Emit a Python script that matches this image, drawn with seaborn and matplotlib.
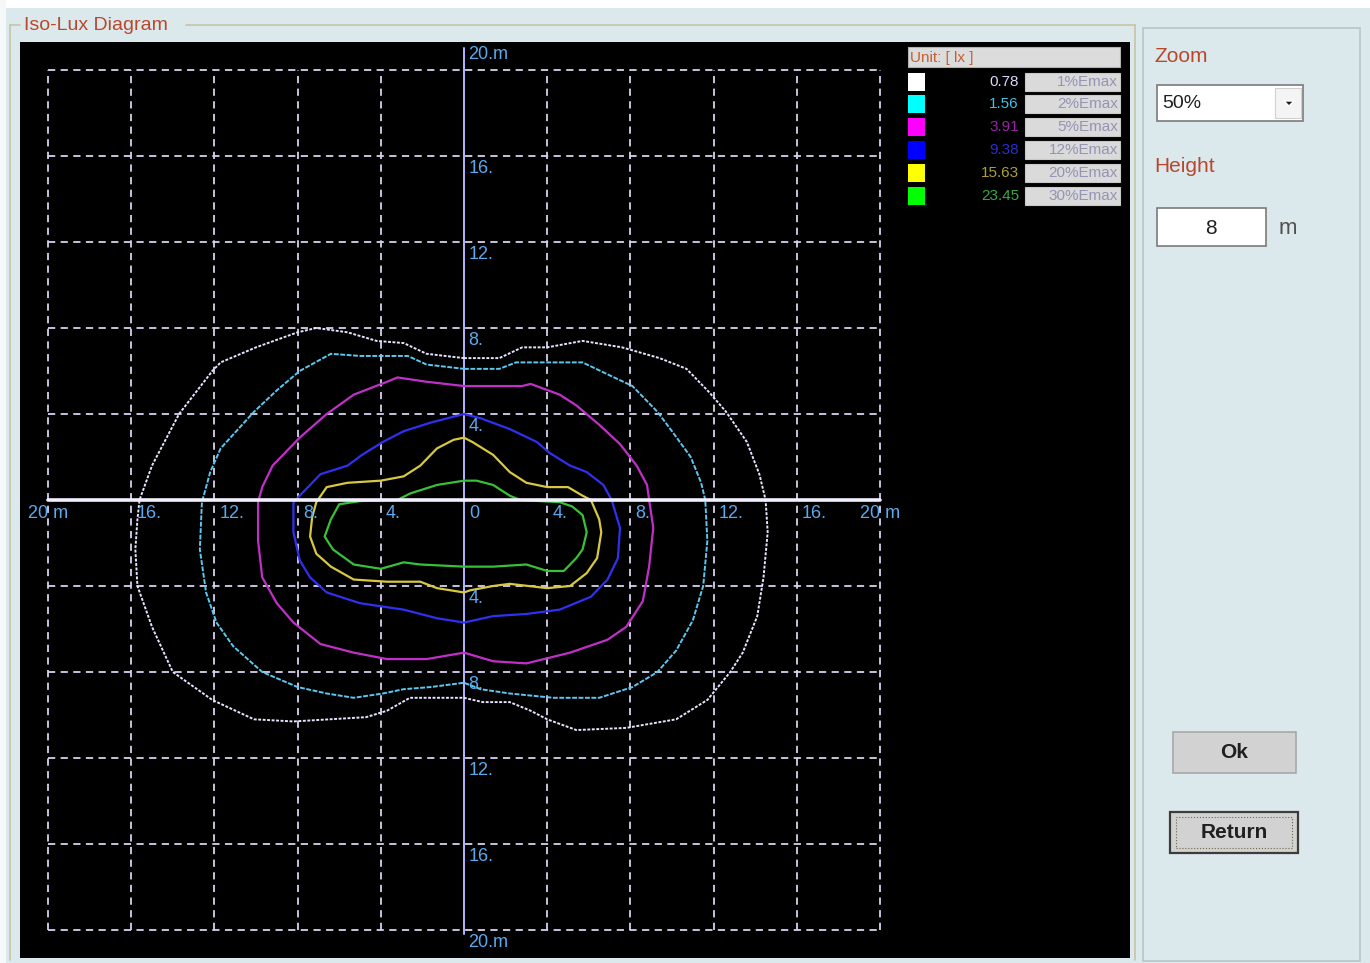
import matplotlib
matplotlib.use("Agg")
import matplotlib.pyplot as plt
from matplotlib.patches import Rectangle, Polygon
import seaborn as sns
import pandas as pd

sns.set_theme(style="white")
plt.rcParams['font.family'] = ['Liberation Sans', 'DejaVu Sans']

# ---------------- data (metres) ----------------
levels_lux = ["0.78", "1.56", "3.91", "9.38", "15.63", "23.45"]
levels_pct = ["1%Emax", "2%Emax", "5%Emax", "12%Emax", "20%Emax", "30%Emax"]
swatch_colors = ["#ffffff", "#00ffff", "#ff00ff", "#0000ff", "#ffff00", "#00ff00"]
value_colors = ["#d8d8ff", "#3fc0e8", "#9a20a8", "#2c2cd0", "#b0a038", "#38a848"]
line_colors = ["#e4e4ff", "#5cc8f0", "#c030c8", "#3030f0", "#d8c840", "#38c038"]

white_x = [0, 1.7, 2.8, 4.0, 5.7, 7.6, 9.4, 10.7, 11.8, 12.6, 13.6, 14.2, 14.5, 14.6, 14.4, 14.1, 13.4, 12.8, 11.7, 10.2, 7.8, 5.4, 4.0, 3.2, 2.2, 0.9, 0, -2.6, -3.7, -4.7, -8.2, -10.1, -12.1, -14.0, -15.0, -15.7, -15.8, -15.7, -15.6, -15.0, -13.7, -12.1, -11.7, -10.0, -8.0, -7.1, -5.6, -4.2, -2.9, -1.8, 0]
white_y = [6.6, 6.6, 7.1, 7.1, 7.4, 7.1, 6.6, 6.1, 5.0, 4.1, 2.7, 1.2, 0, -1.5, -3.6, -5.4, -7.1, -8.0, -9.3, -10.2, -10.6, -10.7, -10.2, -9.8, -9.4, -9.4, -9.2, -9.2, -9.8, -10.1, -10.3, -10.2, -9.3, -8.0, -5.9, -4.0, -2.3, -0.9, 0, 1.6, 4.0, 6.0, 6.4, 7.1, 7.8, 8.0, 7.8, 7.4, 7.3, 6.8, 6.6]

cyan_x = [0, 1.7, 2.5, 5.7, 7.0, 8.1, 9.3, 10.0, 10.9, 11.4, 11.6, 11.7, 11.5, 11.0, 10.2, 9.3, 8.1, 6.5, 4.3, 2.2, 0.8, 0, -1.6, -2.9, -3.9, -5.3, -6.6, -8.0, -9.7, -11.1, -11.9, -12.4, -12.7, -12.6, -12.2, -11.7, -10.1, -9.0, -7.9, -6.4, -5.0, -2.7, -1.8, 0]
cyan_y = [6.1, 6.1, 6.4, 6.4, 5.8, 5.3, 4.1, 3.2, 2.0, 0.8, 0, -1.9, -4.0, -5.6, -7.0, -8.0, -8.7, -9.2, -9.2, -9.0, -8.8, -8.5, -8.7, -8.8, -9.0, -9.2, -9.0, -8.7, -8.0, -6.8, -5.7, -4.3, -2.3, -0.1, 1.3, 2.4, 4.1, 5.1, 6.0, 6.8, 6.7, 6.7, 6.3, 6.1]

magenta_x = [0, 2.8, 3.2, 4.6, 5.4, 6.5, 7.5, 8.3, 8.8, 8.9, 9.1, 8.9, 8.6, 7.8, 6.9, 5.1, 3.0, 1.4, 0, -1.8, -3.7, -5.3, -6.9, -8.2, -9.0, -9.7, -9.9, -9.9, -9.7, -9.2, -7.9, -6.6, -5.3, -3.7, -3.2, -1.8, 0]
magenta_y = [5.3, 5.3, 5.4, 4.9, 4.4, 3.5, 2.6, 1.6, 0.7, 0, -1.3, -3.1, -4.7, -5.9, -6.5, -7.1, -7.6, -7.5, -7.1, -7.4, -7.4, -7.1, -6.7, -5.7, -4.8, -3.6, -1.9, -0.1, 0.6, 1.6, 2.9, 4.0, 4.9, 5.5, 5.7, 5.5, 5.3]

blue_x = [0, 0.8, 2.2, 3.5, 4.1, 5.1, 5.9, 6.7, 7.1, 7.5, 7.4, 6.9, 6.1, 4.6, 3.0, 1.4, 0, -1.3, -2.9, -5.0, -6.6, -7.4, -7.9, -8.2, -8.2, -7.5, -6.9, -5.6, -4.9, -3.9, -2.9, -1.6, 0]
blue_y = [4.0, 3.8, 3.3, 2.7, 2.2, 1.6, 1.3, 0.7, 0, -1.3, -2.7, -3.7, -4.5, -5.1, -5.3, -5.4, -5.7, -5.5, -5.1, -4.8, -4.3, -3.6, -2.8, -1.5, -0.1, 0.6, 1.2, 1.6, 2.1, 2.7, 3.2, 3.6, 4.0]

yellow_x = [0, 0.4, 1.4, 2.2, 3.0, 4.0, 5.0, 5.7, 6.1, 6.5, 6.6, 6.4, 5.9, 5.1, 4.0, 2.2, 1.4, 0.3, 0, -1.3, -2.1, -3.7, -5.3, -6.4, -7.1, -7.4, -7.3, -7.1, -6.6, -5.6, -4.0, -2.9, -2.1, -1.3, -0.5, 0]
yellow_y = [2.9, 2.7, 2.1, 1.3, 0.8, 0.6, 0.6, 0.2, 0, -0.9, -1.5, -2.7, -3.4, -4.0, -4.1, -3.9, -4.0, -4.2, -4.3, -4.1, -3.8, -3.8, -3.7, -3.1, -2.5, -1.7, -0.8, -0.1, 0.6, 0.8, 0.9, 1.1, 1.6, 2.4, 2.8, 2.9]

green_x = [0, 0.6, 1.4, 2.2, 2.7, 4.6, 5.2, 5.7, 5.9, 5.7, 5.4, 4.8, 4.0, 3.0, 1.4, 0, -2.1, -2.9, -4.0, -5.3, -6.3, -6.7, -6.4, -6.0, -5.0, -3.2, -2.6, -1.3, 0]
green_y = [0.9, 0.9, 0.7, 0.2, 0, -0.1, -0.3, -0.7, -1.5, -2.3, -2.7, -3.3, -3.3, -3.0, -3.1, -3.1, -3.0, -2.9, -3.2, -3.0, -2.3, -1.7, -0.9, -0.2, -0.05, 0, 0.3, 0.7, 0.9]

contours_x = [white_x, cyan_x, magenta_x, blue_x, yellow_x, green_x]
contours_y = [white_y, cyan_y, magenta_y, blue_y, yellow_y, green_y]

tick_vals = [-20, -16, -12, -8, -4, 0, 4, 8, 12, 16, 20]
x_tick_labels = ["20 m", "16.", "12.", "8.", "4.", "0", "4.", "8.", "12.", "16.", "20 m"]
y_tick_labels = ["20.m", "16.", "12.", "8.", "4.", "", "4.", "8.", "12.", "16.", "20.m"]

# ---------------- figure ----------------
W, H = 1370, 963
BG = "#dbe8ec"
fig = plt.figure(figsize=(W / 100, H / 100), dpi=100, facecolor=BG)


def fx(px):
    return px / W


def fy(py):
    return 1 - py / H


def frect(x0, y0, x1, y1, **kw):
    r = Rectangle((fx(x0), fy(y1)), fx(x1) - fx(x0), fy(y0) - fy(y1),
                  transform=fig.transFigure, **kw)
    fig.add_artist(r)
    return r


def fline(xs, ys, **kw):
    fig.add_artist(plt.Line2D([fx(v) for v in xs], [fy(v) for v in ys],
                              transform=fig.transFigure, **kw))


# white strip on top / left like the screenshot border
frect(0, 0, W, 8, facecolor="#ffffff", edgecolor="none")
frect(0, 0, 6, H, facecolor="#f4f8f9", edgecolor="none")

# group box frame
gb = "#c9c3a6"
fline([10, 20], [25, 25], color=gb, lw=1.2)
fline([186, 1135], [25, 25], color=gb, lw=1.2)
fline([10, 10], [25, 960], color=gb, lw=1.2)
fline([1135, 1135], [25, 960], color=gb, lw=1.2)
fig.text(fx(24), fy(26), "Iso-Lux Diagram", color="#b8482c", fontsize=14,
         ha="left", va="center")

# right panel frame
frect(1143, 28, 1360, 961, facecolor="none", edgecolor="#b8c4c8", lw=1.2)

# ---------------- main plot ----------------
ax = fig.add_axes([fx(20), fy(958), fx(1130) - fx(20), fy(42) - fy(958)])
ax.set_facecolor("#000000")
ax.set_xlim((20 - 464) / 20.8, (1130 - 464) / 20.8)
ax.set_ylim((500 - 958) / 21.5, (500 - 42) / 21.5)
for s in ax.spines.values():
    s.set_visible(False)
ax.set_xticks([])
ax.set_yticks([])

grid_col = "#d6d2ee"
for v in tick_vals:
    if v != 0:
        ax.plot([v, v], [-20, 20], color=grid_col, lw=1.3, ls=(0, (4, 3)), zorder=1)
        ax.plot([-20, 20], [v, v], color=grid_col, lw=1.3, ls=(0, (4, 3)), zorder=1)

# axis cross (vertical)
ax.plot([0, 0], [-20.2, 21.0], color="#b8b4ff", lw=1.4, zorder=2)

# contours
styles = [(0, (1.5, 0.8)), (0, (2.5, 0.8)), "-", "-", "-", "-"]
widths = [1.4, 1.4, 1.6, 1.6, 1.6, 1.6]
for cx, cy, col, st, w in zip(contours_x, contours_y, line_colors, styles, widths):
    df = pd.DataFrame({"x": cx, "y": cy})
    sns.lineplot(data=df, x="x", y="y", sort=False, estimator=None, ax=ax,
                 color=col, lw=w, linestyle=st, zorder=3)
ax.set_xlabel("")
ax.set_ylabel("")

ax.plot([-20, 20], [0, 0], color="#f2f0ff", lw=2.6, zorder=4)

lab_col = "#5aaaf0"
for v, t in zip(tick_vals, x_tick_labels):
    if abs(v) == 20:
        ax.text(v, -0.62, t, color=lab_col, fontsize=13, ha="center", va="center", zorder=5)
    else:
        ax.text(v + 0.25, -0.62, t, color=lab_col, fontsize=13, ha="left", va="center", zorder=5)
for v, t in zip(tick_vals, y_tick_labels):
    if t == "":
        continue
    if v == 20:
        yy = 20.7
    elif v == -20:
        yy = -20.6
    else:
        yy = v - 0.58
    ax.text(0.2, yy, t, color=lab_col, fontsize=13, ha="left", va="center", zorder=5)

# ---------------- legend ----------------
frect(908, 47, 1120, 67, facecolor="#dcdcdc", edgecolor="#b0b0b0", lw=0.8)
fig.text(fx(910), fy(58), "Unit: [ lx ]", color="#c06034", fontsize=11, ha="left", va="center")
row_y = [82, 104, 127, 150, 173, 196]
for ry, sc, vc, lv, pc in zip(row_y, swatch_colors, value_colors, levels_lux, levels_pct):
    frect(908, ry - 9, 925, ry + 9, facecolor=sc, edgecolor="none")
    fig.text(fx(1019), fy(ry), lv, color=vc, fontsize=11, ha="right", va="center")
    frect(1025, ry - 9, 1120, ry + 9, facecolor="#dadada", edgecolor="#c8c8c8", lw=0.8)
    fig.text(fx(1118), fy(ry), pc, color="#9494b4", fontsize=11, ha="right", va="center")

# ---------------- right panel controls ----------------
fig.text(fx(1154), fy(57), "Zoom", color="#b8482c", fontsize=15, ha="left", va="center")
frect(1157, 85, 1303, 121, facecolor="#ffffff", edgecolor="#7a7a7a", lw=1.2)
fig.text(fx(1162), fy(104), "50%", color="#202020", fontsize=14, ha="left", va="center")
frect(1275, 88, 1301, 118, facecolor="#f4f4f4", edgecolor="#d0d0d0", lw=0.8)
fig.add_artist(Polygon([(fx(1284), fy(101)), (fx(1294), fy(101)), (fx(1289), fy(106))],
                       closed=True, transform=fig.transFigure, facecolor="#202020"))

fig.text(fx(1154), fy(166), "Height", color="#b8482c", fontsize=15, ha="left", va="center")
frect(1157, 208, 1266, 246, facecolor="#ffffff", edgecolor="#7a7a7a", lw=1.2)
fig.text(fx(1211), fy(228), "8", color="#202020", fontsize=15, ha="center", va="center")
fig.text(fx(1279), fy(228), "m", color="#505050", fontsize=16, ha="left", va="center")

frect(1173, 732, 1296, 773, facecolor="#d2d2d2", edgecolor="#a8a8a8", lw=1.2)
fig.text(fx(1234), fy(752), "Ok", color="#202020", fontsize=15, ha="center", va="center",
         fontweight="bold")
frect(1170, 812, 1298, 853, facecolor="#d2d2d2", edgecolor="#3c3c3c", lw=1.6)
frect(1176, 817, 1292, 848, facecolor="none", edgecolor="#6a6a40", lw=0.8, ls=":")
fig.text(fx(1234), fy(832), "Return", color="#202020", fontsize=15, ha="center", va="center",
         fontweight="bold")

fig.savefig("out.png", dpi=100, facecolor=BG)
